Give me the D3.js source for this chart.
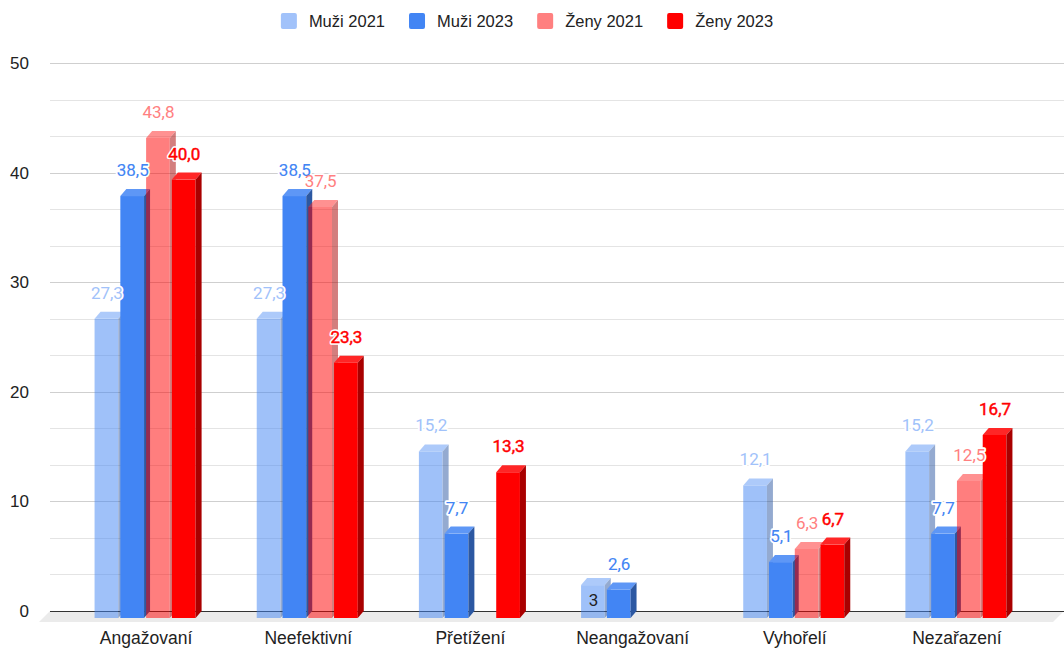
<!DOCTYPE html>
<html>
<head>
<meta charset="utf-8">
<script src="https://cdn.jsdelivr.net/npm/d3@7"></script>
<style>
  body { margin: 0; background: #fff; }
  svg { display: block; }
</style>
</head>
<body>
<div id="chart"></div>
<script>
const categories = ["Angažovaní", "Neefektivní", "Přetížení", "Neangažovaní", "Vyhořelí", "Nezařazení"]
const seriesNames = ["Muži 2021", "Muži 2023", "Ženy 2021", "Ženy 2023"]
// values as shown in the data labels (decimal comma)
const muzi2021 = ["27,3", "27,3", "15,2", "3", "12,1", "15,2"]
const muzi2023 = ["38,5", "38,5", "7,7", "2,6", "5,1", "7,7"]
const zeny2021 = ["43,8", "37,5", null, null, "6,3", "12,5"]
const zeny2023 = ["40,0", "23,3", "13,3", null, "6,7", "16,7"]
const yTicks = [0, 10, 20, 30, 40, 50]
// label drawn inside its bar instead of above it
const insideLabels = [["Neangažovaní", "Muži 2021"]]

const W = 1064
const H = 650
const DX = 6   // 3d depth, horizontal
const DY = 7   // 3d depth, vertical

const baseColors = ["#4285f4", "#4285f4", "#ff0000", "#ff0000"]
const opacities = [0.5, 1, 0.5, 1]
const labelHeavy = [0, 0.1, 0, 0.45]   // extra stroke on label glyphs

const allSeries = [muzi2021, muzi2023, zeny2021, zeny2023]
const parse = s => s == null ? null : +s.replace(",", ".")

const svg = d3.select("#chart").append("svg")
  .attr("width", W)
  .attr("height", H)
  .style("font-family", "'Liberation Sans', Arial, sans-serif")

const y = d3.scaleLinear().domain([0, 50]).range([611, 63])

const x0 = d3.scaleBand()
  .domain(categories)
  .range([64, 1037])
  .paddingInner(0.377)
  .paddingOuter(0.1885)

const x1 = d3.scaleBand()
  .domain(seriesNames)
  .range([0, x0.bandwidth()])
  .paddingInner(0.08)

const plotLeft = 50
const plotRight = W

// --- Gridlines ---
const grid = svg.append("g")
const minorTicks = d3.range(0, 50, 10 / 3).filter(v => Math.abs(v - Math.round(v / 10) * 10) > 0.01)
grid.selectAll("line.minor")
  .data(minorTicks)
  .join("line")
  .attr("x1", plotLeft).attr("x2", plotRight)
  .attr("y1", d => Math.round(y(d)) + 0.5).attr("y2", d => Math.round(y(d)) + 0.5)
  .attr("stroke", "#e4e4e4")

grid.selectAll("line.major")
  .data(yTicks.filter(d => d > 0))
  .join("line")
  .attr("x1", plotLeft).attr("x2", plotRight)
  .attr("y1", d => Math.round(y(d)) + 0.5).attr("y2", d => Math.round(y(d)) + 0.5)
  .attr("stroke", "#cfcfcf")

// Floor
const y0 = y(0)
svg.append("path")
  .attr("d", `M ${plotLeft} ${y0} L ${plotRight} ${y0} L ${plotRight - 11} ${y0 + 11} L ${plotLeft - 11} ${y0 + 11} Z`)
  .attr("fill", "#ebebeb")

svg.append("line")
  .attr("x1", plotLeft).attr("x2", plotRight)
  .attr("y1", Math.round(y0) + 0.5).attr("y2", Math.round(y0) + 0.5)
  .attr("stroke", "#333")

// Y axis labels
const yAxis = d3.axisLeft(y).tickValues(yTicks).tickSize(0).tickPadding(0)
svg.append("g")
  .attr("transform", "translate(29,0)")
  .call(yAxis)
  .call(g => g.select(".domain").remove())
  .call(g => g.selectAll("text")
    .attr("font-size", "17px")
    .attr("font-family", "'Liberation Sans', Arial, sans-serif")
    .attr("fill", "#222"))

// X axis labels
const xAxis = d3.axisBottom(x0).tickSize(0).tickPadding(0)
svg.append("g")
  .attr("transform", "translate(1,632)")
  .call(xAxis)
  .call(g => g.select(".domain").remove())
  .call(g => g.selectAll("text")
    .attr("font-size", "17.5px")
    .attr("font-family", "'Liberation Sans', Arial, sans-serif")
    .attr("fill", "#222"))

// --- Bars ---
const barsG = svg.append("g")
const labels = []

categories.forEach((cat, ci) => {
  seriesNames.forEach((name, si) => {
    const raw = allSeries[si][ci]
    const v = parse(raw)
    if (v == null) return
    const color = baseColors[si]
    const bx = x0(cat) + x1(name)
    const bw = x1.bandwidth()
    const yTop = y(v)
    const fTop = yTop + DY
    const fBot = y0 + DY

    const g = barsG.append("g").attr("opacity", opacities[si])

    // front
    g.append("rect")
      .attr("x", bx).attr("y", fTop)
      .attr("width", bw).attr("height", fBot - fTop)
      .attr("fill", color)

    // top
    g.append("path")
      .attr("d", `M ${bx} ${fTop} L ${bx + DX} ${yTop} L ${bx + bw + DX} ${yTop} L ${bx + bw} ${fTop} Z`)
      .attr("fill", d3.interpolateRgb(color, "#fff")(0.15))

    // side
    g.append("path")
      .attr("d", `M ${bx + bw} ${fTop} L ${bx + bw + DX} ${yTop} L ${bx + bw + DX} ${y0} L ${bx + bw} ${fBot} Z`)
      .attr("fill", d3.color(color).darker(1.15))

    const inside = insideLabels.some(([c, s]) => c === cat && s === name)
    const labelColor = d3.interpolateRgb("#fff", color)(opacities[si])
    labels.push({
      text: raw,
      x: bx + bw / 2 + 0.5,
      y: inside ? fBot - 12 : yTop - 13,
      color: inside ? "#222" : labelColor,
      heavy: inside ? 0 : labelHeavy[si],
      inside
    })
  })
})

// --- Data labels ---
const labelG = svg.append("g")
  .attr("font-family", "Roboto, 'Liberation Sans', sans-serif")
  .attr("font-size", "17px")
  .attr("text-anchor", "middle")

// white halo
labelG.selectAll("text.halo")
  .data(labels.filter(d => !d.inside))
  .join("text")
  .attr("class", "halo")
  .attr("x", d => d.x)
  .attr("y", d => d.y)
  .attr("fill", "#fff")
  .attr("stroke", "#fff")
  .attr("stroke-width", 3.5)
  .attr("stroke-linejoin", "round")
  .text(d => d.text)

labelG.selectAll("text.lbl")
  .data(labels)
  .join("text")
  .attr("class", "lbl")
  .attr("x", d => d.x)
  .attr("y", d => d.y)
  .attr("fill", d => d.color)
  .attr("stroke", d => d.heavy > 0 ? d.color : "none")
  .attr("stroke-width", d => d.heavy)
  .text(d => d.text)

// --- Legend ---
const legend = svg.append("g").attr("transform", "translate(0,21)")
const items = legend.selectAll("g")
  .data(seriesNames)
  .join("g")

items.append("rect")
  .attr("y", -8)
  .attr("width", 16)
  .attr("height", 16)
  .attr("rx", 2)
  .attr("fill", (d, i) => d3.interpolateRgb("#fff", baseColors[i])(opacities[i]))

items.append("text")
  .attr("x", 28)
  .attr("y", 6)
  .attr("font-size", "16.5px")
  .attr("fill", "#222")
  .text(d => d)

let cursor = 0
const widths = []
items.each(function () {
  const tw = d3.select(this).select("text").node().getComputedTextLength()
  widths.push(28 + tw)
})
const totalW = d3.sum(widths) + 24 * (widths.length - 1)
cursor = 527 - totalW / 2
items.each(function (d, i) {
  d3.select(this).attr("transform", `translate(${cursor},0)`)
  cursor += widths[i] + 24
})
</script>
</body>
</html>
